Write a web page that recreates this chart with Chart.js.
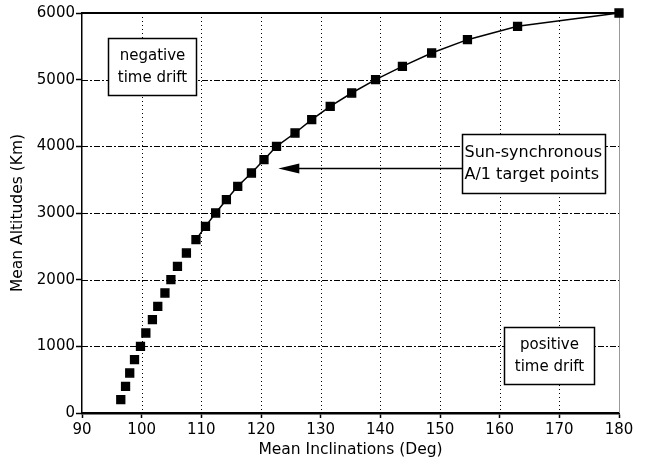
<!DOCTYPE html>
<html>
<head>
<meta charset="UTF-8">
<title>Sun-synchronous target points</title>
<script src="https://cdn.jsdelivr.net/npm/chart.js"></script>
<style>
  html, body { margin: 0; padding: 0; background: #fff; }
  #wrap { width: 646px; height: 465px; }
</style>
</head>
<body>
<div id="wrap"><canvas id="cnv" width="646" height="465"></canvas></div>
<script>
// values
const altitudes = [200, 400, 600, 800, 1000, 1200, 1400, 1600, 1800, 2000,
                   2200, 2400, 2600, 2800, 3000, 3200, 3400, 3600, 3800, 4000,
                   4200, 4400, 4600, 4800, 5000, 5200, 5400, 5600, 5800, 6000];
const inclinations = [96.5, 97.3, 98.0, 98.8, 99.8, 100.7, 101.8, 102.7, 103.9, 104.9,
                      106.0, 107.5, 109.1, 110.7, 112.4, 114.2, 116.1, 118.4, 120.5, 122.6,
                      125.7, 128.5, 131.6, 135.2, 139.2, 143.7, 148.6, 154.6, 163.0, 180];
const xTicks = [90, 100, 110, 120, 130, 140, 150, 160, 170, 180];
const yTicks = [0, 1000, 2000, 3000, 4000, 5000, 6000];

const FONT = "'DejaVu Sans', sans-serif";

const points = inclinations.map((x, i) => ({ x: x, y: altitudes[i] }));

// grid drawn by hand: dash-dot rows, dotted columns
const gridPlugin = {
  id: "grille",
  beforeDatasetsDraw(chart) {
    const { ctx, chartArea: a, scales: { x, y } } = chart;
    ctx.save();
    ctx.strokeStyle = "#000";
    ctx.lineWidth = 1;
    ctx.setLineDash([1, 3]);
    xTicks.slice(1, -1).forEach(v => {
      const px = Math.round(x.getPixelForValue(v)) + 0.5;
      ctx.beginPath(); ctx.moveTo(px, a.top); ctx.lineTo(px, a.bottom); ctx.stroke();
    });
    ctx.setLineDash([6, 2, 2, 2]);
    yTicks.slice(1, -1).forEach(v => {
      const py = Math.round(y.getPixelForValue(v)) + 0.5;
      ctx.beginPath(); ctx.moveTo(a.left, py); ctx.lineTo(a.right, py); ctx.stroke();
    });
    ctx.setLineDash([]);
    // top frame line and pale right edge
    ctx.lineWidth = 2;
    ctx.beginPath(); ctx.moveTo(a.left, a.top); ctx.lineTo(a.right, a.top); ctx.stroke();
    ctx.strokeStyle = "#999";
    ctx.lineWidth = 1;
    ctx.beginPath(); ctx.moveTo(a.right + 0.5, a.top); ctx.lineTo(a.right + 0.5, a.bottom); ctx.stroke();
    ctx.restore();
  }
};

// text boxes and arrow, placed in data units
const notes = [
  { x0: 94.4, x1: 109.1, y0: 5625, y1: 4770, lines: ["negative", "time drift"], size: 15, align: "center" },
  { x0: 153.7, x1: 177.6, y0: 4185, y1: 3300, lines: ["Sun-synchronous", "A/1 target points"], size: 16, align: "left" },
  { x0: 160.7, x1: 175.8, y0: 1290, y1: 435, lines: ["positive", "time drift"], size: 15, align: "center" }
];
const arrow = { from: 153.7, to: 122.9, y: 3675 };

const notesPlugin = {
  id: "notes",
  afterDraw(chart) {
    const { ctx, scales: { x, y } } = chart;
    ctx.save();
    // arrow
    const ay = Math.round(y.getPixelForValue(arrow.y)) + 0.5;
    const ax0 = x.getPixelForValue(arrow.from);
    const ax1 = x.getPixelForValue(arrow.to);
    ctx.strokeStyle = "#000";
    ctx.lineWidth = 1.5;
    ctx.beginPath(); ctx.moveTo(ax0, ay); ctx.lineTo(ax1 + 18, ay); ctx.stroke();
    ctx.fillStyle = "#000";
    ctx.beginPath();
    ctx.moveTo(ax1, ay);
    ctx.lineTo(ax1 + 21, ay - 5);
    ctx.lineTo(ax1 + 21, ay + 5);
    ctx.closePath();
    ctx.fill();
    // boxes
    notes.forEach(n => {
      const l = Math.round(x.getPixelForValue(n.x0)) + 0.5;
      const r = Math.round(x.getPixelForValue(n.x1)) + 0.5;
      const t = Math.round(y.getPixelForValue(n.y0)) + 0.5;
      const b = Math.round(y.getPixelForValue(n.y1)) + 0.5;
      ctx.fillStyle = "#fff";
      ctx.fillRect(l, t, r - l, b - t);
      ctx.strokeStyle = "#000";
      ctx.lineWidth = 1.5;
      ctx.strokeRect(l, t, r - l, b - t);
      ctx.fillStyle = "#000";
      ctx.font = n.size + "px " + FONT;
      ctx.textBaseline = "middle";
      const mid = (t + b) / 2;
      const gap = 21.5;
      n.lines.forEach((s, i) => {
        const ty = mid + (i - (n.lines.length - 1) / 2) * gap;
        if (n.align === "center") {
          ctx.textAlign = "center";
          ctx.fillText(s, (l + r) / 2, ty);
        } else {
          ctx.textAlign = "left";
          ctx.fillText(s, l + 2, ty);
        }
      });
    });
    ctx.restore();
  }
};

new Chart(document.getElementById("cnv"), {
  type: "scatter",
  data: {
    datasets: [{
      data: points,
      showLine: true,
      borderColor: "#000",
      borderWidth: 1.5,
      backgroundColor: "#000",
      pointStyle: "rect",
      pointRadius: 5.5,
      pointHoverRadius: 5.5,
      clip: false,
      segment: {
        borderColor: c => c.p0.parsed.y < 2600 ? "rgba(0,0,0,0)" : "#000"
      }
    }]
  },
  options: {
    responsive: false,
    animation: false,
    events: [],
    layout: { padding: { top: 13, right: 27, left: 0, bottom: 0 } },
    plugins: { legend: { display: false }, tooltip: { enabled: false } },
    scales: {
      x: {
        type: "linear",
        min: 90, max: 180,
        afterBuildTicks: s => { s.ticks = xTicks.map(v => ({ value: v })); },
        afterFit: s => { s.height = 52; },
        grid: { drawOnChartArea: false, drawTicks: true, tickLength: 5, tickColor: "#000", tickWidth: 1.5 },
        border: { color: "#000", width: 2.5 },
        ticks: { color: "#000", font: { family: FONT, size: 15 }, padding: 3, maxRotation: 0,
                 callback: v => String(v) },
        title: { display: true, text: "Mean Inclinations (Deg)", color: "#000",
                 font: { family: FONT, size: 15.5 }, padding: { top: 0, bottom: 6 } }
      },
      y: {
        type: "linear",
        min: 0, max: 6000,
        afterBuildTicks: s => { s.ticks = yTicks.map(v => ({ value: v })); },
        afterFit: s => { s.width = 82; },
        grid: { drawOnChartArea: false, drawTicks: true, tickLength: 6, tickColor: "#000", tickWidth: 1.5 },
        border: { color: "#000", width: 1.5 },
        ticks: { color: "#000", font: { family: FONT, size: 15 }, padding: 1,
                 callback: v => String(v) },
        title: { display: true, text: "Mean Altitudes (Km)", color: "#000",
                 font: { family: FONT, size: 15.5 }, padding: { top: 9, bottom: 0 } }
      }
    }
  },
  plugins: [gridPlugin, notesPlugin]
});
</script>
</body>
</html>
